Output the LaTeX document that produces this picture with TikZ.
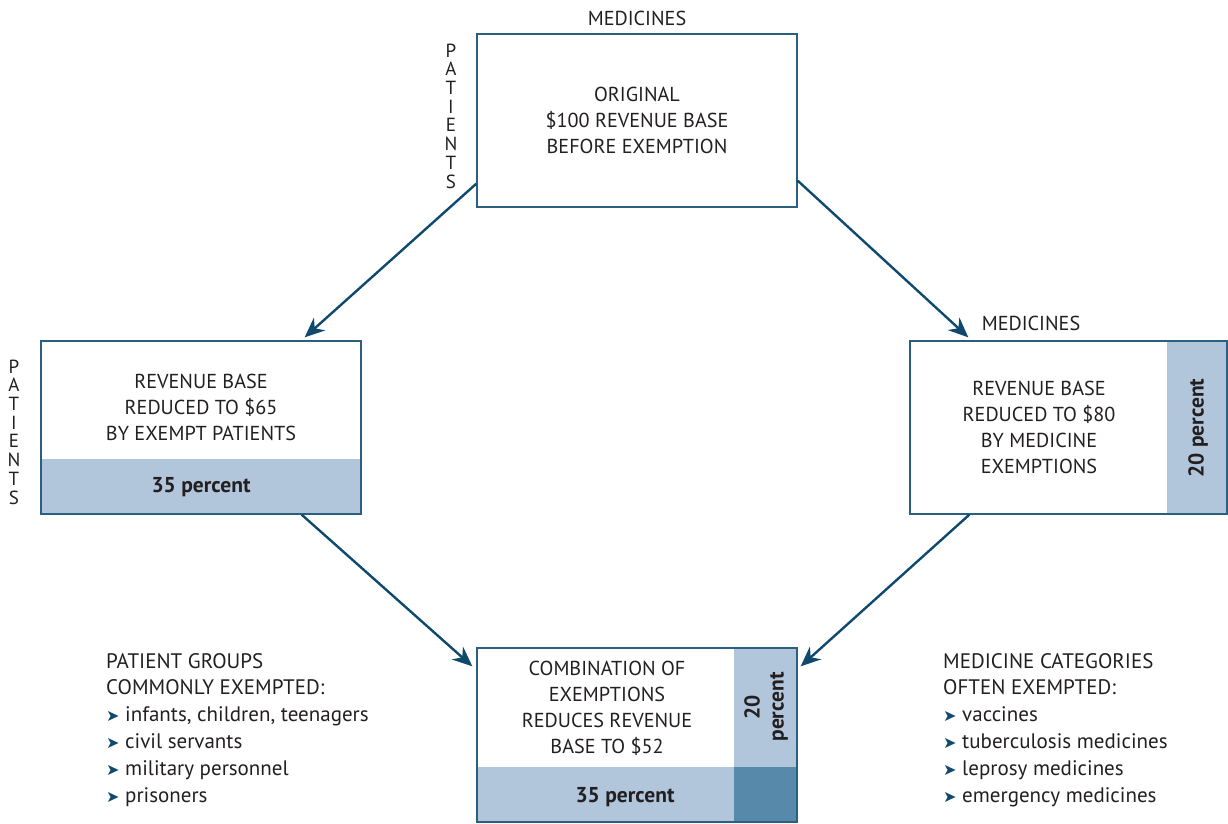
\documentclass[tikz,border=0pt]{standalone}
\usepackage{fontspec}
\setmainfont{PT Sans}
\newfontfamily\symfont{DejaVu Sans}
\usetikzlibrary{arrows.meta,calc}
\definecolor{boxline}{HTML}{2A5F80}
\definecolor{arrowcol}{HTML}{0F4A6E}
\definecolor{lightfill}{HTML}{B1C5DB}
\definecolor{darkfill}{HTML}{5689AA}
\definecolor{txt}{HTML}{231F20}
\newcommand{\bul}{{\color{arrowcol}\symfont\fontsize{16}{16}\selectfont ➤}}
\begin{document}
\begin{tikzpicture}[x=1pt,y=-1pt,
  every node/.style={text=txt,font=\fontsize{20.2}{26}\selectfont},
  box/.style={draw=boxline,line width=1.3pt,minimum width=320pt,minimum height=173pt,inner sep=0pt,rectangle},
  conn/.style={draw=arrowcol,line width=2.4pt,-{Stealth[length=20pt,width=17pt]}},
  pct/.style={font=\fontsize{21.5}{22}\selectfont\bfseries},
  lbl/.style={align=center,inner sep=0pt},
  vlet/.style={align=center,inner sep=0pt,font=\fontsize{19}{18.7}\selectfont},
  item/.style={align=left,anchor=north west,inner sep=0pt,font=\fontsize{21}{26.8}\selectfont}]
\useasboundingbox (0,0) rectangle (1228,823);
% top box
\node[box] (top) at (637,120.5) {};
\node[lbl] (toptxt) at (637,120) {ORIGINAL\\\$100 REVENUE BASE\\BEFORE EXEMPTION};
\node[lbl] (medtop) at (637,18) {MEDICINES};
\node[vlet] (pattop) at (451,116) {P\\A\\T\\I\\E\\N\\T\\S};
% left box
\fill[lightfill] (41,459) rectangle (361,514);
\node[box] (left) at (201,427.5) {};
\node[lbl] (lefttxt) at (201,407) {REVENUE BASE\\REDUCED TO \$65\\BY EXEMPT PATIENTS};
\node[pct] (leftpct) at (201,487) {35 percent};
\node[vlet] (patleft) at (14,432) {P\\A\\T\\I\\E\\N\\T\\S};
% right box
\fill[lightfill] (1167,341) rectangle (1227,514);
\node[box,minimum width=317pt] (right) at (1068.5,427.5) {};
\node[lbl] (righttxt) at (1039,427) {REVENUE BASE\\REDUCED TO \$80\\BY MEDICINE\\EXEMPTIONS};
\node[pct,rotate=90] (rightpct) at (1198,428) {20 percent};
\node[lbl] (medright) at (1031,323) {MEDICINES};
% bottom box
\fill[lightfill] (477,767) rectangle (797,822);
\fill[lightfill] (734,648) rectangle (797,767);
\fill[darkfill] (734,767) rectangle (797,822);
\node[box,minimum height=174pt] (bottom) at (637,735) {};
\node[lbl] (bottxt) at (607,708) {COMBINATION OF\\EXEMPTIONS\\REDUCES REVENUE\\BASE TO \$52};
\node[pct,rotate=90,align=center,font=\fontsize{21.5}{24}\selectfont\bfseries] (botpct20) at (766,707) {20\\percent};
\node[pct] (botpct35) at (625,797) {35 percent};
% lists
\node[item] (plist) at (106,653) {PATIENT GROUPS\\COMMONLY EXEMPTED:\\\bul{} infants, children, teenagers\\\bul{} civil servants\\\bul{} military personnel\\\bul{} prisoners};
\node[item] (mlist) at (943,653) {MEDICINE CATEGORIES\\OFTEN EXEMPTED:\\\bul{} vaccines\\\bul{} tuberculosis medicines\\\bul{} leprosy medicines\\\bul{} emergency medicines};
% connectors
\draw[conn] ([yshift=24pt]top.south west) -- ([xshift=-57pt,yshift=3pt]left.north east);
\draw[conn] ([yshift=27pt]top.south east) -- ([xshift=59pt,yshift=3pt]right.north west);
\draw[conn] ([xshift=-60pt]left.south east) -- ([xshift=-4pt,yshift=-19pt]bottom.north west);
\draw[conn] ([xshift=60pt]right.south west) -- ([xshift=3pt,yshift=-19pt]bottom.north east);
\end{tikzpicture}
\end{document}
